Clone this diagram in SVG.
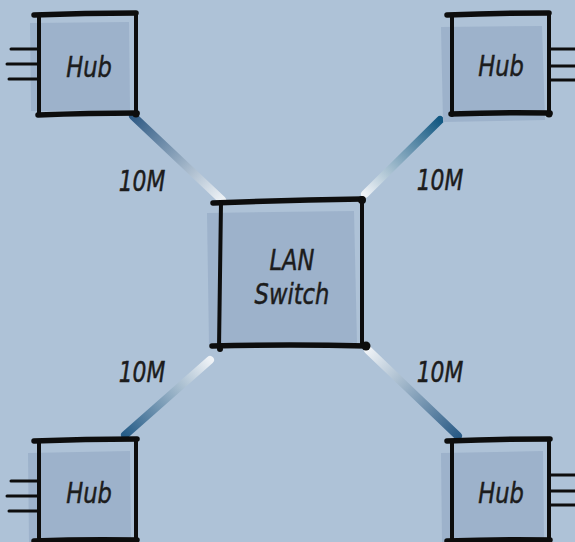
<svg xmlns="http://www.w3.org/2000/svg" width="575" height="542" viewBox="0 0 575 542">
  <defs>
    <style>
      .bg { fill: #aec2d7; }
      .fill { fill: #9db2cb; }
      .edge { stroke: #0d0d0d; stroke-width: 5.5; stroke-linecap: round; fill: none; }
      .thin { stroke: #0d0d0d; stroke-width: 4; stroke-linecap: round; fill: none; }
      .stub { stroke: #0d0d0d; stroke-width: 3; stroke-linecap: round; fill: none; }
      .dot { fill: #0d0d0d; }
      .lbl { font-family: "DejaVu Sans", "Liberation Sans", sans-serif; font-style: italic; fill: #1c1c1c; stroke: #1c1c1c; stroke-width: 0.5; text-anchor: middle; }
      .hub { font-size: 29px; }
      .rate { font-size: 28px; }
      .link { stroke-width: 8; stroke-linecap: round; fill: none; }
    </style>
    <linearGradient id="gTL" gradientUnits="userSpaceOnUse" x1="133" y1="116" x2="222" y2="200">
      <stop offset="0" stop-color="#2f5a84"/>
      <stop offset="1" stop-color="#eef2f6"/>
    </linearGradient>
    <linearGradient id="gTR" gradientUnits="userSpaceOnUse" x1="440" y1="120" x2="365" y2="194">
      <stop offset="0" stop-color="#135882"/>
      <stop offset="1" stop-color="#eef2f6"/>
    </linearGradient>
    <linearGradient id="gBL" gradientUnits="userSpaceOnUse" x1="125" y1="435" x2="210" y2="360">
      <stop offset="0" stop-color="#275d88"/>
      <stop offset="1" stop-color="#eef2f6"/>
    </linearGradient>
    <linearGradient id="gBR" gradientUnits="userSpaceOnUse" x1="458" y1="436" x2="368" y2="350">
      <stop offset="0" stop-color="#2a5b86"/>
      <stop offset="1" stop-color="#eef2f6"/>
    </linearGradient>
  </defs>

  <rect class="bg" x="0" y="0" width="575" height="542"/>

  <!-- links between the switch and the hubs; labels are narrowed horizontally -->
  <g id="connectors">
    <line class="link" x1="133" y1="116" x2="222" y2="200" stroke="url(#gTL)"/>
    <line class="link" x1="440" y1="120" x2="365" y2="194" stroke="url(#gTR)"/>
    <line class="link" x1="125" y1="435" x2="210" y2="360" stroke="url(#gBL)"/>
    <line class="link" x1="458" y1="436" x2="368" y2="350" stroke="url(#gBR)"/>
    <text class="lbl rate" transform="translate(142 191) scale(0.78 1)">10M</text>
    <text class="lbl rate" transform="translate(440 190) scale(0.78 1)">10M</text>
    <text class="lbl rate" transform="translate(142 382) scale(0.78 1)">10M</text>
    <text class="lbl rate" transform="translate(440 382) scale(0.78 1)">10M</text>
  </g>

  <g id="hub-top-left">
    <path class="fill" d="M30 23 L129 22 L130 110 L31 111 Z"/>
    <path class="stub" d="M11 49 L38 49 M7 64 L38 64 M9 79 L38 79"/>
    <path class="edge" d="M34 15 Q85 13 136 13"/>
    <path class="thin" d="M39 15 L39 115"/>
    <path class="thin" d="M136 14 L136 114"/>
    <path class="edge" d="M38 115 Q90 113 137 113"/>
    <circle class="dot" cx="136" cy="114" r="3.5"/>
    <text class="lbl hub" transform="translate(89 77) scale(0.78 1)">Hub</text>
  </g>

  <g id="hub-top-right">
    <path class="fill" d="M441 27 L542 26 L545 120 L443 122 Z"/>
    <path class="stub" d="M549 49 L575 49 M549 66 L575 66 M549 80 L575 80"/>
    <path class="edge" d="M447 15 Q500 13 549 13"/>
    <path class="thin" d="M452 15 L452 115"/>
    <path class="thin" d="M549 14 L549 114"/>
    <path class="edge" d="M451 114 Q500 112 550 113"/>
    <circle class="dot" cx="549" cy="114" r="3.5"/>
    <text class="lbl hub" transform="translate(501 76) scale(0.78 1)">Hub</text>
  </g>

  <g id="lan-switch">
    <path class="fill" d="M207 213 L354 211 L357 344 L209 345 Z"/>
    <path class="edge" d="M213 203 Q290 200 362 199" stroke-width="6"/>
    <circle class="dot" cx="362" cy="200" r="4"/>
    <path class="thin" d="M221 203 L219 348" stroke-width="4.5"/>
    <path class="thin" d="M362 200 L362 346" stroke-width="4"/>
    <path class="edge" d="M212 346 Q290 344 367 346" stroke-width="6"/>
    <circle class="dot" cx="366" cy="346" r="4.5"/>
    <circle class="dot" cx="220" cy="349" r="3"/>
    <text class="lbl hub" transform="translate(292 270) scale(0.78 1)">LAN</text>
    <text class="lbl hub" transform="translate(292 304) scale(0.78 1)">Switch</text>
  </g>

  <g id="hub-bottom-left">
    <path class="fill" d="M28 453 L130 451 L131 542 L29 542 Z"/>
    <path class="stub" d="M11 481 L38 481 M7 496 L38 496 M9 511 L38 511"/>
    <path class="edge" d="M34 441 Q85 439 137 439"/>
    <path class="thin" d="M39 441 L39 542"/>
    <path class="thin" d="M136 440 L136 542"/>
    <path class="edge" d="M34 541 Q85 539 137 540"/>
    <text class="lbl hub" transform="translate(89 503) scale(0.78 1)">Hub</text>
  </g>

  <g id="hub-bottom-right">
    <path class="fill" d="M441 453 L543 451 L544 542 L442 542 Z"/>
    <path class="stub" d="M549 475 L575 475 M549 491 L575 491 M549 505 L575 505"/>
    <path class="edge" d="M447 441 Q500 439 550 439"/>
    <path class="thin" d="M452 441 L452 542"/>
    <path class="thin" d="M549 440 L549 542"/>
    <path class="edge" d="M447 541 Q500 539 550 540"/>
    <text class="lbl hub" transform="translate(501 503) scale(0.78 1)">Hub</text>
  </g>
</svg>
